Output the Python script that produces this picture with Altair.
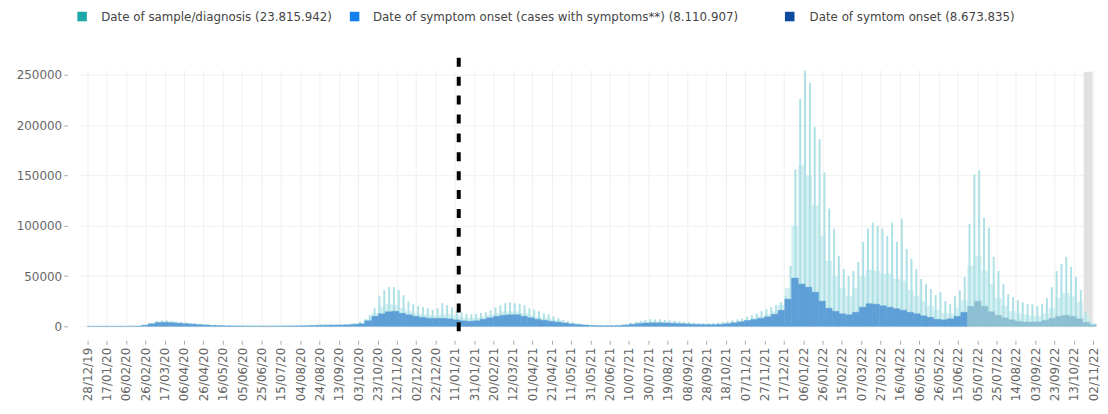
import altair as alt
import pandas as pd

# ---------------- data ----------------
tick_dates = [
    "2019-12-28", "2020-01-17", "2020-02-06", "2020-02-26", "2020-03-17", "2020-04-06",
    "2020-04-26", "2020-05-16", "2020-06-05", "2020-06-25", "2020-07-15", "2020-08-04",
    "2020-08-24", "2020-09-13", "2020-10-03", "2020-10-23", "2020-11-12", "2020-12-02",
    "2020-12-22", "2021-01-11", "2021-01-31", "2021-02-20", "2021-03-12", "2021-04-01",
    "2021-04-21", "2021-05-11", "2021-05-31", "2021-06-20", "2021-07-10", "2021-07-30",
    "2021-08-19", "2021-09-08", "2021-09-28", "2021-10-18", "2021-11-07", "2021-11-27",
    "2021-12-17", "2022-01-06", "2022-01-26", "2022-02-15", "2022-03-07", "2022-03-27",
    "2022-04-16", "2022-05-06", "2022-05-26", "2022-06-15", "2022-07-05", "2022-07-25",
    "2022-08-14", "2022-09-03", "2022-09-23", "2022-10-13", "2022-11-02",
]

# weekly bins starting 28/12/2019
week_start = pd.date_range("2019-12-28", periods=149, freq="7D")
# spike positions seen in the picture (about every 5 days, from 30/12/2019)
spike_days = pd.date_range("2019-12-30", periods=208, freq="5D")

# Date of sample/diagnosis: tops of the visible spikes
diag_spikes = [
    0, 0, 0, 0, 0, 0, 0, 0, 0, 50,
    300, 800, 2000, 3500, 5000, 6000, 5800, 5500, 4800, 4200,
    3800, 3300, 2900, 2500, 2100, 1700, 1400, 1200, 1000, 800,
    700, 550, 450, 400, 350, 300, 300, 300, 330, 360,
    400, 450, 550, 700, 900, 1200, 1500, 1700, 1900, 2000,
    2000, 2000, 2000, 2100, 2500, 3200, 4500, 7000, 11000, 18000,
    30000, 36000, 39000, 39000, 36000, 31000, 25000, 22000, 20000, 19000,
    18000, 16500, 18000, 23000, 21000, 19000, 16000, 13500, 12500, 12000,
    12500, 13000, 14000, 16000, 19000, 21000, 23000, 24000, 23000, 22500,
    21000, 18000, 16500, 15000, 13000, 12000, 10000, 8000, 6500, 5000,
    4000, 3000, 2200, 1600, 1300, 1100, 1000, 1000, 1000, 1200,
    1600, 2500, 3500, 4500, 5500, 6500, 7000, 7000, 7000, 6500,
    6000, 5500, 5000, 4500, 4000, 3600, 3400, 3300, 3300, 3400,
    3800, 4300, 5000, 6000, 7000, 8000, 9500, 11000, 13000, 15000,
    17000, 19000, 21000, 24000, 30000, 60000, 156000, 226000, 254000, 242000,
    198000, 186000, 153000, 117000, 97000, 70000, 57000, 50000, 55000, 64000,
    84000, 97000, 103000, 100000, 97000, 90000, 103000, 84000, 107000, 77000,
    67000, 57000, 47000, 42000, 37000, 31000, 34000, 25000, 22000, 30000,
    36000, 49000, 102000, 151000, 155000, 108000, 98000, 69000, 55000, 42000,
    32000, 29000, 26000, 24000, 22000, 22000, 20000, 22000, 28000, 39000,
    55000, 62000, 69000, 59000, 49000, 36000, 15000, 5000,
]

# Date of sample/diagnosis: level of the days between the spikes (weekly)
diag_low = [
    0, 0, 0, 0, 0, 0, 30, 200, 1100, 2800,
    4500, 5000, 4500, 3800, 3200, 2600, 2100, 1600, 1200, 900,
    700, 500, 400, 300, 250, 230, 230, 250, 300, 380,
    450, 600, 900, 1200, 1400, 1500, 1500, 1600, 1800, 2400,
    3500, 7000, 13000, 19000, 22000, 21000, 18000, 15000, 13000, 12000,
    11000, 10500, 12000, 12000, 11000, 8500, 8000, 8500, 9500, 11000,
    13000, 14500, 15000, 14500, 13000, 11000, 9500, 8000, 7000, 6000,
    4500, 3200, 2200, 1400, 1000, 750, 600, 600, 900, 1700,
    2800, 3800, 4500, 4800, 4800, 4500, 4000, 3500, 3100, 2700,
    2400, 2200, 2200, 2600, 3500, 4200, 5200, 6500, 8000, 10000,
    12000, 15000, 21000, 38000, 100000, 160000, 150000, 120000, 90000, 65000,
    50000, 38000, 30000, 38000, 50000, 56000, 55000, 52000, 52000, 47000,
    45000, 36000, 30000, 25000, 20000, 16000, 13000, 12500, 18000, 26000,
    60000, 70000, 55000, 42000, 28000, 20000, 15000, 13000, 11500, 10500,
    10000, 12500, 18000, 28000, 33000, 30000, 24000, 10000, 3000,
]

# Date of symptom onset (weekly)
onset = [
    0, 0, 0, 0, 0, 0, 50, 200, 1000, 2500,
    3800, 4000, 3600, 3100, 2700, 2200, 1700, 1300, 900, 700,
    500, 400, 300, 250, 200, 200, 200, 200, 250, 300,
    350, 450, 600, 800, 1000, 1100, 1200, 1300, 1500, 2000,
    2500, 5500, 10000, 12500, 14500, 15000, 13000, 11500, 10000, 9000,
    8000, 8000, 8000, 7500, 6500, 5500, 5000, 5500, 7000, 8500,
    10000, 11000, 11600, 11600, 10000, 8500, 7000, 6000, 5000, 4200,
    3300, 2500, 1800, 1300, 800, 600, 500, 500, 700, 1200,
    2000, 2800, 3300, 3500, 3500, 3300, 3000, 2700, 2400, 2000,
    1800, 1700, 1700, 2000, 2600, 3500, 4500, 5800, 6800, 8000,
    9500, 12000, 16000, 27000, 48000, 42000, 39000, 34000, 25000, 18000,
    15000, 12500, 11500, 14000, 19000, 22500, 22000, 20500, 19000, 17500,
    16000, 14000, 12500, 10500, 9000, 7000, 6500, 7500, 10000, 14000,
    20000, 25000, 20000, 14500, 11000, 8500, 6500, 5000, 4300, 4200,
    4500, 6000, 8000, 10000, 11000, 10000, 7500, 4000, 1500,
]

series_names = [
    "Date of sample/diagnosis (23.815.942)",
    "Date of symptom onset (cases with symptoms**) (8.110.907)",
    "Date of symtom onset (8.673.835)",
]
series_colors = ["#1fa8a8", "#1480ee", "#0b4a9e"]

recent_from = "2022-06-25"      # onset shown lighter from here
marker_date = "2021-01-15"      # dashed vertical line
grey_band = ["2022-10-23", "2022-11-01"]
x_domain = ["2019-12-20T02:00:00", "2022-11-02T17:00:00"]
y_ticks = [0, 50000, 100000, 150000, 200000, 250000]

# legend layout (pixels from the plot's left edge)
legend_square_x = [2.5, 276.5, 714.0]
legend_text_x = [21.7, 295.0, 734.0]


def ms(s):
    return int(pd.Timestamp(s).value // 1_000_000)


# ---------------- tables ----------------
df = pd.DataFrame({
    "start": [ms(d) for d in week_start],
    "end": [ms(d + pd.Timedelta(days=7)) for d in week_start],
    "low": diag_low,
    "onset": onset,
})
df_sp = pd.DataFrame({"day": [ms(d) for d in spike_days], "high": diag_spikes})
cut_ms = ms(recent_from)

FONT = "DejaVu Sans"

x_axis = alt.Axis(
    values=[ms(t) for t in tick_dates],
    labelExpr="utcFormat(datum.value, '%d/%m/%y')",
    labelAngle=-90, tickSize=4, offset=14, labelPadding=3, grid=True,
    labelOverlap=False, labelFontSize=12, labelColor="#666", labelFont=FONT,
)
y_axis = alt.Axis(
    values=y_ticks, format="d", tickSize=4, offset=12, labelPadding=2, grid=True,
    labelFontSize=12, labelColor="#666", labelFont=FONT,
)
x_scale = alt.Scale(type="utc", domain=[ms(x_domain[0]), ms(x_domain[1])], nice=False, padding=0)
y_scale = alt.Scale(domain=[0, 255000], nice=False, zero=True, padding=0)


def X(field):
    return alt.X(field, scale=x_scale, axis=x_axis, title=None)


def Y(field):
    return alt.Y(field, scale=y_scale, axis=y_axis, title=None)


band = alt.Chart(pd.DataFrame({"a": [ms(grey_band[0])], "b": [ms(grey_band[1])]})).mark_rect(
    color="#e1e1e1"
).encode(
    x=X("a:T"),
    x2="b:T",
    y=alt.value(2),
    y2=alt.value(258),
)

low_bars = alt.Chart(df).mark_bar(
    color="#d3eff2", stroke="#d3eff2", strokeWidth=0.4, orient="vertical"
).encode(
    x=X("start:T"),
    x2="end:T",
    y=Y("low:Q"),
    y2=alt.datum(0),
)

spikes = alt.Chart(df_sp).mark_rule(color="#aee1e5", strokeWidth=2).encode(
    x=X("day:T"),
    y=Y("high:Q"),
    y2=alt.datum(0),
)

recent = f"datum.start >= {cut_ms}"
onset_bars = alt.Chart(df).mark_bar(strokeWidth=0.4, orient="vertical").encode(
    x=X("start:T"),
    x2="end:T",
    y=Y("onset:Q"),
    y2=alt.datum(0),
    color=alt.condition(recent, alt.value("#8dbfd3"), alt.value("#5d9fd6")),
    stroke=alt.condition(recent, alt.value("#8dbfd3"), alt.value("#5d9fd6")),
)

dline = alt.Chart(pd.DataFrame({"d": [ms(marker_date)]})).mark_rule(
    color="black", strokeWidth=4, strokeDash=[9, 10]
).encode(
    x=X("d:T"),
    y=alt.value(-12),
    y2=alt.value(271),
)

leg_df = pd.DataFrame({"series": series_names, "sx": legend_square_x, "tx": legend_text_x})
leg_color = alt.Color("series:N", scale=alt.Scale(domain=series_names, range=series_colors), legend=None)

leg_squares = alt.Chart(leg_df).mark_square(size=92, opacity=1, strokeWidth=0).encode(
    x=alt.X("sx:Q", scale=None),
    y=alt.value(-53.5),
    color=leg_color,
)
leg_text = alt.Chart(leg_df).mark_text(
    align="left", baseline="middle", font=FONT, fontSize=11.9, color="#444"
).encode(
    x=alt.X("tx:Q", scale=None),
    y=alt.value(-53),
    text="series:N",
)

chart = alt.layer(band, low_bars, spikes, onset_bars, dline, leg_squares, leg_text).properties(
    width=1020,
    height=258,
    padding={"left": 72, "top": 61, "right": 6, "bottom": 77},
    autosize=alt.AutoSizeParams(type="none"),
).configure_view(stroke=None).configure_axis(
    gridColor="#f0f0f0", domain=False, tickColor="#aaa"
)

chart.save("out.html", embed_options={"renderer": "svg", "actions": False})
